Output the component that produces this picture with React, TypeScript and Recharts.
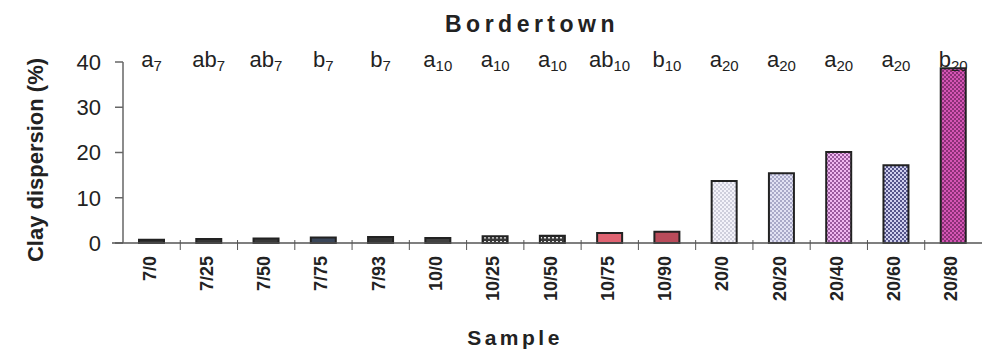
import React from 'react';
import { BarChart, Bar, XAxis, YAxis, Cell, LabelList } from 'recharts';

const samples = ['7/0', '7/25', '7/50', '7/75', '7/93', '10/0', '10/25', '10/50', '10/75', '10/90', '20/0', '20/20', '20/40', '20/60', '20/80'];
const dispersion = [0.7, 0.9, 1.0, 1.2, 1.3, 1.1, 1.5, 1.6, 2.2, 2.5, 13.7, 15.4, 20.1, 17.2, 38.6];
const letters = ['a', 'ab', 'ab', 'b', 'b', 'a', 'a', 'a', 'ab', 'b', 'a', 'a', 'a', 'a', 'b'];
const subscripts = ['7', '7', '7', '7', '7', '10', '10', '10', '10', '10', '20', '20', '20', '20', '20'];
const yTicks = [0, 10, 20, 30, 40];

const fills = [
  '#333333', '#353535', '#383838', '#3a4659', '#353535', '#404040',
  'url(#pDash)', 'url(#pDash)', '#e06472', '#b94b5a',
  'url(#p200)', 'url(#p2020)', 'url(#p2040)', 'url(#p2060)', 'url(#p2080)',
];

const data = samples.map((s, i) => ({ sample: s, value: dispersion[i], letter: letters[i], sub: subscripts[i] }));

const W = 982;
const H = 354;
const TOP = 62;
const LEFT = 123;
const XAXIS_H = 111;
const BAND = (W - LEFT) / samples.length;
const FONT = '"Liberation Sans", Arial, sans-serif';

const XTick = (props: any) => {
  const { x, y, payload, index } = props;
  const half = BAND / 2;
  return (
    <g>
      {index > 0 && <line x1={x - half} x2={x - half} y1={y - 3} y2={y + 7} stroke="#555" strokeWidth={1} />}
      <text
        transform={`translate(${x + 4},${y + 13}) rotate(-90)`}
        textAnchor="end"
        fontSize={18}
        fontWeight="bold"
        fill="#222"
        fontFamily={FONT}
      >
        {payload.value}
      </text>
    </g>
  );
};

const LetterLabel = (props: any) => {
  const { x, width, index } = props;
  const cx = x + width / 2;
  return (
    <text x={cx} y={TOP + 5} textAnchor="middle" fontFamily={FONT} fill="#222" fontSize={22}>
      <tspan>{letters[index]}</tspan>
      <tspan fontSize={15} dy={4}>{subscripts[index]}</tspan>
    </text>
  );
};

export default function App() {
  return (
    <div style={{ position: 'absolute', left: 0, top: 0, width: W, height: H, background: '#fff' }}>
      <svg width={0} height={0} style={{ position: 'absolute' }}>
        <defs>
          <pattern id="pDash" width="4" height="4" patternUnits="userSpaceOnUse">
            <rect width="4" height="4" fill="#3a3a3a" />
            <rect x="0" y="1" width="2" height="1.5" fill="#e8e8e8" />
          </pattern>
          <pattern id="p200" width="4" height="4" patternUnits="userSpaceOnUse">
            <rect width="4" height="4" fill="#f4f3fa" />
            <rect x="0" y="0" width="2" height="2" fill="#cfcfdc" />
            <rect x="2" y="2" width="2" height="2" fill="#cfcfdc" />
          </pattern>
          <pattern id="p2020" width="4" height="4" patternUnits="userSpaceOnUse">
            <rect width="4" height="4" fill="#e2e2f4" />
            <rect x="0" y="0" width="2" height="2" fill="#a9a9c8" />
            <rect x="2" y="2" width="2" height="2" fill="#a9a9c8" />
          </pattern>
          <pattern id="p2040" width="4" height="4" patternUnits="userSpaceOnUse">
            <rect width="4" height="4" fill="#f0b8f0" />
            <rect x="0" y="0" width="2" height="2" fill="#9a5a9e" />
            <rect x="2" y="2" width="2" height="2" fill="#9a5a9e" />
          </pattern>
          <pattern id="p2060" width="4" height="4" patternUnits="userSpaceOnUse">
            <rect width="4" height="4" fill="#d0d0ee" />
            <rect x="0" y="0" width="2" height="2" fill="#55558a" />
            <rect x="2" y="2" width="2" height="2" fill="#55558a" />
          </pattern>
          <pattern id="p2080" width="4" height="4" patternUnits="userSpaceOnUse">
            <rect width="4" height="4" fill="#d455b4" />
            <rect x="0" y="0" width="2" height="2" fill="#8a3077" />
            <rect x="2" y="2" width="2" height="2" fill="#8a3077" />
          </pattern>
        </defs>
      </svg>
      <BarChart
        width={W}
        height={H}
        data={data}
        margin={{ top: TOP, right: 0, bottom: 0, left: 0 }}
        barCategoryGap={0}
      >
        <XAxis
          dataKey="sample"
          interval={0}
          height={XAXIS_H}
          tickLine={false}
          tickSize={0}
          tickMargin={0}
          axisLine={{ stroke: '#555', strokeWidth: 1.5 }}
          tick={<XTick />}
        />
        <YAxis
          domain={[0, 40]}
          ticks={yTicks}
          width={LEFT}
          tickSize={8}
          tickMargin={14}
          axisLine={{ stroke: '#666', strokeWidth: 1.5 }}
          tickLine={{ stroke: '#666', strokeWidth: 1.5 }}
          tick={{ fontSize: 22, fill: '#222', fontFamily: FONT }}
        />
        <Bar dataKey="value" barSize={25} stroke="#222" strokeWidth={2} isAnimationActive={false}>
          {data.map((d, i) => (
            <Cell key={d.sample} fill={fills[i]} />
          ))}
          <LabelList dataKey="letter" content={<LetterLabel />} />
        </Bar>
      </BarChart>
      <svg width={W} height={H} style={{ position: 'absolute', left: 0, top: 0, pointerEvents: 'none' }}>
        <line x1={112} x2={LEFT} y1={243} y2={243} stroke="#555" strokeWidth={1.5} />
        <text x={532} y={32} textAnchor="middle" fontFamily={FONT} fontWeight="bold" fontSize={23} letterSpacing={4.5} fill="#222">
          Bordertown
        </text>
        <text x={515} y={345} textAnchor="middle" fontFamily={FONT} fontWeight="bold" fontSize={21} letterSpacing={3.5} fill="#222">
          Sample
        </text>
        <text
          transform="translate(43,160) rotate(-90)"
          textAnchor="middle"
          fontFamily={FONT}
          fontWeight="bold"
          fontSize={22}
          fill="#222"
        >
          Clay dispersion (%)
        </text>
      </svg>
    </div>
  );
}
